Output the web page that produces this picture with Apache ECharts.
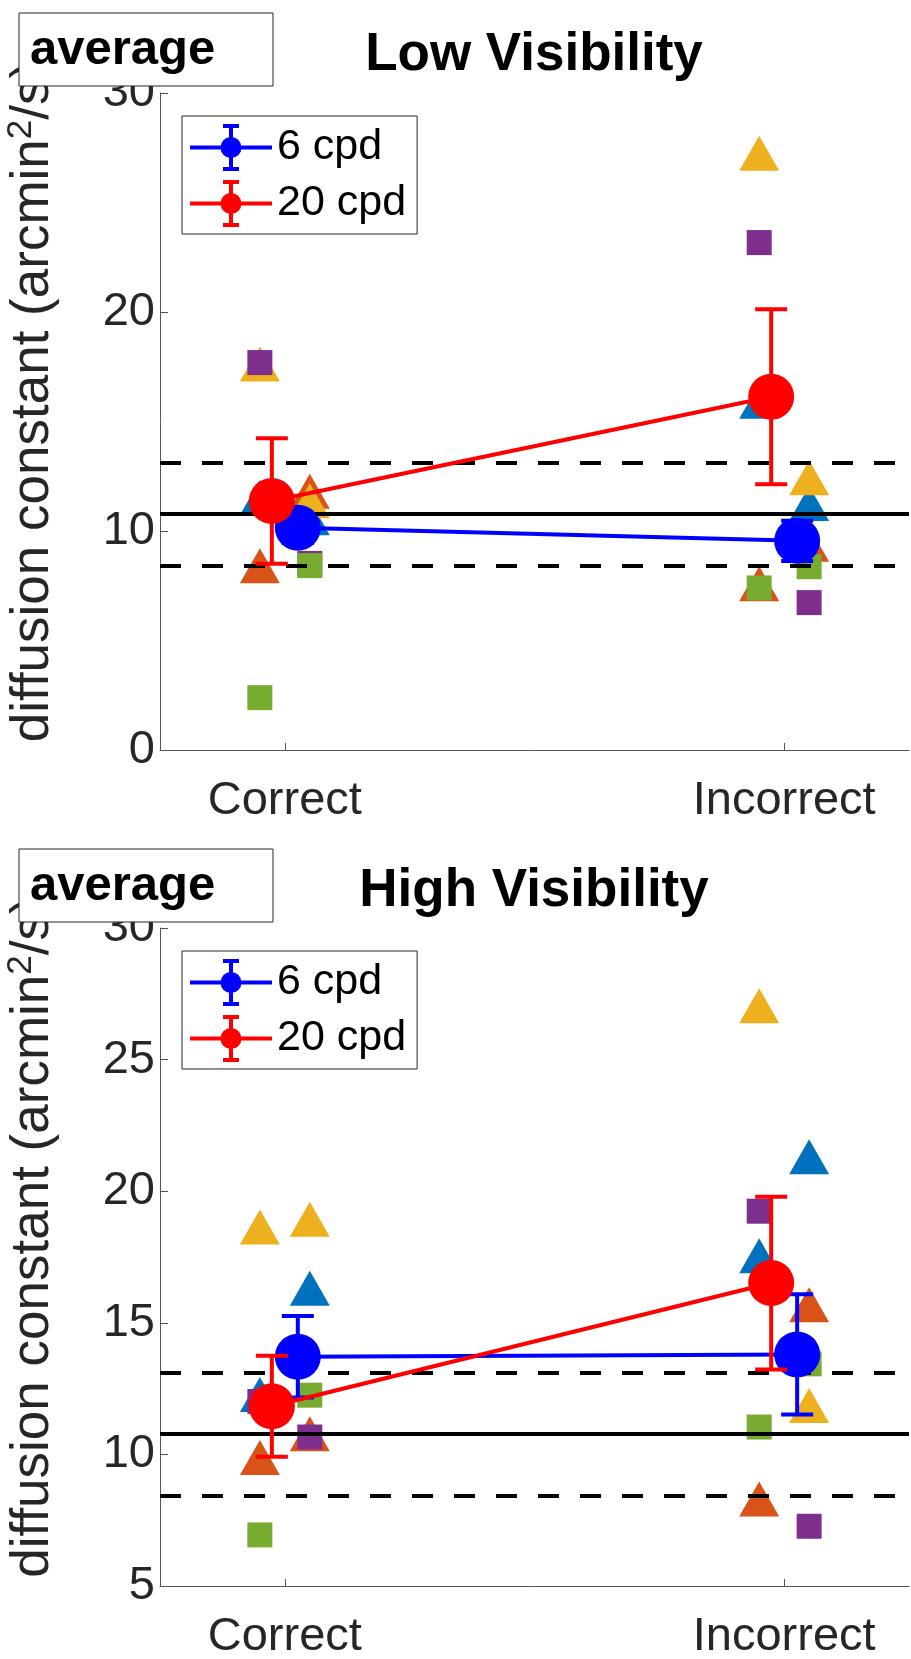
<!DOCTYPE html>
<html><head><meta charset="utf-8">
<script src="https://cdn.jsdelivr.net/npm/echarts@6/dist/echarts.min.js"></script>
<style>html,body{margin:0;padding:0;background:#fff}#c{width:911px;height:1659px}</style>
</head><body><div id="c"></div>
<script>
// ---------------- DATA ----------------
const categories = ['Correct', 'Incorrect'];
const categoryX = [1, 2];
const panelTitles = ['Low Visibility', 'High Visibility'];
const boxLabel = 'average';
const yAxisTitle = ['diffusion constant (arcmin', '2', '/s)'];
const seriesNames = ['6 cpd', '20 cpd'];
const subjectColors = ['#0072BD', '#D95319', '#EDB120', '#7E2F8E', '#77AC30'];
const subjectShapes = ['triangle', 'triangle', 'triangle', 'rect', 'rect'];

// Low visibility: group means and errors [Correct, Incorrect]
const lowMean6 = [10.15, 9.55];
const lowErr6 = [0.7, 0.92];
const lowMean20 = [11.37, 16.13];
const lowErr20 = [2.87, 4.0];
// per subject values [Correct, Incorrect]
const lowSubj6 = [[10.6, 11.26], [11.82, 9.4], [11.38, 12.43], [8.52, 6.73], [8.42, 8.37]];
const lowSubj20 = [[11.53, 15.92], [8.41, 7.59], [17.62, 27.25], [17.69, 23.17], [2.39, 7.40]];

// High visibility
const highMean6 = [13.71, 13.80];
const highErr6 = [1.55, 2.28];
const highMean20 = [11.83, 16.51];
const highErr20 = [1.92, 3.28];
const highSubj6 = [[16.31, 21.31], [10.78, 15.69], [18.93, 11.86], [10.66, 7.27], [12.25, 13.44]];
const highSubj20 = [[12.28, 17.55], [9.88, 8.31], [18.64, 27.05], [12.01, 19.24], [6.94, 11.04]];

// baseline reference (mean +/- sd)
const baselineMean = 10.77;
const baselineSD = 2.34;

// axis ranges / ticks
const lowY = {min: 0, max: 30, interval: 10};
const highY = {min: 5, max: 30, interval: 5};
const xRange = {min: 0.75, max: 2.25};

// ---------------- LAYOUT ----------------
const meanOffset = 0.026;   // horizontal jitter of group means (6 cpd right, 20 cpd left)
const subjOffset = 0.05;    // horizontal jitter of individual subjects
const grids = [
  {left: 160, top: 93, width: 749, height: 657, outerBoundsMode: 'none', containLabel: false},
  {left: 160, top: 928, width: 749, height: 658, outerBoundsMode: 'none', containLabel: false}
];
const FONT = '"Liberation Sans", Arial, Helvetica, sans-serif';
const AX = '#262626';

const panels = [
  {mean6: lowMean6, err6: lowErr6, mean20: lowMean20, err20: lowErr20, subj6: lowSubj6, subj20: lowSubj20, y: lowY},
  {mean6: highMean6, err6: highErr6, mean20: highMean20, err20: highErr20, subj6: highSubj6, subj20: highSubj20, y: highY}
];

const legendIcon = 'path://M0 21.5 H82 V25.5 H0 Z M39 2 H43 V45 H39 Z M33 0 H49 V4 H33 Z M33 43 H49 V47 H33 Z M30.5 23.5 A10.5 10.5 0 1 1 51.5 23.5 A10.5 10.5 0 1 1 30.5 23.5 Z';

function errRender(params, api) {
  const x = api.value(0), y = api.value(1), e = api.value(2);
  const c = api.coord([x, y]);
  const t = api.coord([x, y + e]);
  const b = api.coord([x, y - e]);
  const col = api.visual('color');
  const st = {stroke: col, lineWidth: 4};
  const hw = 16;
  return {
    type: 'group',
    children: [
      {type: 'line', shape: {x1: c[0], y1: t[1], x2: c[0], y2: b[1]}, style: st},
      {type: 'line', shape: {x1: c[0] - hw, y1: t[1], x2: c[0] + hw, y2: t[1]}, style: st},
      {type: 'line', shape: {x1: c[0] - hw, y1: b[1], x2: c[0] + hw, y2: b[1]}, style: st}
    ]
  };
}

const xAxes = [], yAxes = [], series = [], legends = [], graphics = [];

panels.forEach((p, gi) => {
  xAxes.push({
    type: 'value', gridIndex: gi, min: xRange.min, max: xRange.max,
    axisLine: {show: true, onZero: false, lineStyle: {color: '#555', width: 1}},
    axisTick: {show: true, inside: true, length: 7, customValues: categoryX, lineStyle: {color: '#555'}},
    axisLabel: {show: true, customValues: categoryX, margin: 28, fontSize: 47, color: AX, fontFamily: FONT,
      formatter: v => categories[categoryX.indexOf(v)]},
    splitLine: {show: false}
  });
  yAxes.push({
    type: 'value', gridIndex: gi, min: p.y.min, max: p.y.max, interval: p.y.interval,
    name: '{a|' + yAxisTitle[0] + '}{s|' + yAxisTitle[1] + '}{a|' + yAxisTitle[2] + '}',
    nameLocation: 'middle', nameGap: 98,
    nameTextStyle: {
      fontSize: 53, color: AX, fontFamily: FONT, padding: [0, 0, 0, 40],
      rich: {
        a: {fontSize: 53, color: AX, fontFamily: FONT, lineHeight: 58},
        s: {fontSize: 35, color: AX, fontFamily: FONT, lineHeight: 35, verticalAlign: 'top'}
      }
    },
    axisLine: {show: true, lineStyle: {color: '#555', width: 1}},
    axisTick: {show: true, inside: true, length: 8, lineStyle: {color: '#555'}},
    axisLabel: {fontSize: 47, color: AX, fontFamily: FONT, margin: 5},
    splitLine: {show: false}
  });

  // reference lines
  series.push({
    type: 'line', xAxisIndex: gi, yAxisIndex: gi, data: [], silent: true, z: 1,
    markLine: {
      silent: true, symbol: ['none', 'none'], label: {show: false}, animation: false,
      data: [
        {yAxis: baselineMean, lineStyle: {type: 'solid', width: 4, color: '#000'}},
        {yAxis: baselineMean + baselineSD, lineStyle: {type: [21, 21], width: 4, color: '#000'}},
        {yAxis: baselineMean - baselineSD, lineStyle: {type: [21, 21], width: 4, color: '#000'}}
      ]
    }
  });

  // individual subjects
  subjectColors.forEach((col, si) => {
    const data = [];
    categoryX.forEach((cx, ci) => {
      data.push([cx - subjOffset, p.subj20[si][ci]]);
      data.push([cx + subjOffset, p.subj6[si][ci]]);
    });
    series.push({
      type: 'scatter', xAxisIndex: gi, yAxisIndex: gi, z: 2 + si * 0.01,
      symbol: subjectShapes[si], symbolSize: subjectShapes[si] === 'rect' ? 25 : [40, 35],
      itemStyle: {color: col, opacity: 1}, data: data, silent: true
    });
  });

  // group means
  [[p.mean6, p.err6, '#0000FF', seriesNames[0], +meanOffset, 5],
   [p.mean20, p.err20, '#FF0000', seriesNames[1], -meanOffset, 6]].forEach(([m, e, col, nm, off, z]) => {
    const pts = categoryX.map((cx, ci) => [cx + off, m[ci]]);
    const errPts = categoryX.map((cx, ci) => [cx + off, m[ci], e[ci]]);
    series.push({type: 'line', name: nm, xAxisIndex: gi, yAxisIndex: gi, z: z, data: pts,
      symbol: 'none', lineStyle: {color: col, width: 4}, itemStyle: {color: col}});
    series.push({type: 'custom', name: nm, xAxisIndex: gi, yAxisIndex: gi, z: z, data: errPts,
      renderItem: errRender, itemStyle: {color: col}, encode: {x: 0, y: 1}});
    series.push({type: 'scatter', name: nm, xAxisIndex: gi, yAxisIndex: gi, z: z, data: pts,
      symbol: 'circle', symbolSize: 46, itemStyle: {color: col, opacity: 1}});
  });

  legends.push({
    orient: 'vertical', left: 182, top: grids[gi].top + 23,
    itemWidth: 82, itemHeight: 47, itemGap: 9,
    padding: [8, 11, 7, 8],
    backgroundColor: '#fff', borderColor: AX, borderWidth: 1,
    textStyle: {fontSize: 43, color: '#000', fontFamily: FONT, lineHeight: 47},
    data: seriesNames.map(n => ({name: n, icon: legendIcon})),
    selectedMode: false
  });

  const boxTop = gi === 0 ? 13 : 849;
  graphics.push({
    type: 'group', z: 100,
    children: [
      {type: 'rect', shape: {x: 19, y: boxTop, width: 254, height: 73},
        style: {fill: '#fff', stroke: AX, lineWidth: 1}, z: 100},
      {type: 'text', x: 30, y: boxTop + 37, z: 101,
        style: {text: boxLabel, font: 'bold 49px ' + FONT, fill: '#000', textVerticalAlign: 'middle'}},
      {type: 'text', x: 534, y: boxTop + 42, z: 101,
        style: {text: panelTitles[gi], font: 'bold 53px ' + FONT, fill: '#000', textAlign: 'center', textVerticalAlign: 'middle'}}
    ]
  });
});

const chart = echarts.init(document.getElementById('c'), null, {renderer: 'canvas'});
chart.setOption({
  animation: false,
  backgroundColor: '#fff',
  grid: grids,
  xAxis: xAxes,
  yAxis: yAxes,
  legend: legends,
  graphic: graphics,
  series: series
});
</script>
</body></html>
